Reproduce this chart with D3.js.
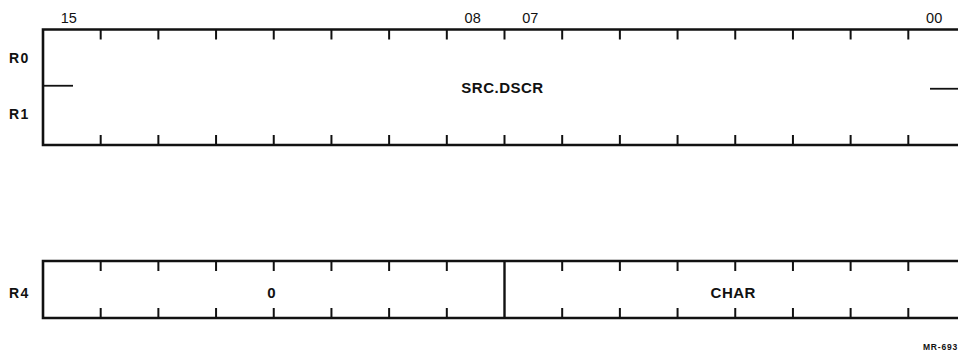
<!DOCTYPE html>
<html><head><meta charset="utf-8">
<script src="https://cdn.jsdelivr.net/npm/d3@7"></script>
<style>
html,body{margin:0;padding:0;background:#fff;}
svg{display:block;font-family:"Liberation Sans",Arial,Helvetica,sans-serif;}
</style></head>
<body><svg id="c" width="958" height="352"></svg>
<script>
// ---- data ----
const bitLabels = ["15", "08", "07", "00"];
const bitLabelPos = [15, 8, 7, 0];
const registerNames = [["R0", "R1"], ["R4"]];
const topFields = [{label: "SRC.DSCR", hi: 15, lo: 0}];
const bottomFields = [{label: "0", hi: 15, lo: 8}, {label: "CHAR", hi: 7, lo: 0}];
const figureId = "MR-693";

// ---- layout ----
const svg = d3.select("#c");
const x = d3.scaleLinear().domain([16, 0]).range([43, 966]);
const bits = d3.range(15, 0, -1); // inner boundaries
const boxes = [
  {top: 29.5, bottom: 145, names: registerNames[0], fields: topFields, split: true},
  {top: 261, bottom: 318, names: registerNames[1], fields: bottomFields, split: false}
];
const tickLen = 10;
const ink = "#111";

// bit number labels
svg.selectAll("text.bit").data(bitLabels).join("text")
  .attr("class", "bit")
  .attr("x", (d, i) => x(bitLabelPos[i] + 0.5) - 3)
  .attr("y", 22.5)
  .attr("text-anchor", "middle")
  .attr("font-size", 14.5)
  .attr("fill", ink)
  .text(d => d);

boxes.forEach(b => {
  const g = svg.append("g");
  g.append("path")
    .attr("d", `M${x(0) + 5},${b.top} H${x(16)} V${b.bottom} H${x(0) + 5}`)
    .attr("fill", "none").attr("stroke", ink).attr("stroke-width", 2.6);
  const fieldBounds = b.fields.map(f => f.lo).filter(v => v > 0 && v < 16);
  bits.forEach(k => {
    if (fieldBounds.includes(k)) {
      g.append("line").attr("x1", x(k)).attr("x2", x(k))
        .attr("y1", b.top).attr("y2", b.bottom)
        .attr("stroke", ink).attr("stroke-width", 2.4);
    } else {
      g.append("line").attr("x1", x(k)).attr("x2", x(k))
        .attr("y1", b.top).attr("y2", b.top + tickLen)
        .attr("stroke", ink).attr("stroke-width", 2);
      g.append("line").attr("x1", x(k)).attr("x2", x(k))
        .attr("y1", b.bottom - tickLen).attr("y2", b.bottom)
        .attr("stroke", ink).attr("stroke-width", 2);
    }
  });
  const mid = (b.top + b.bottom) / 2;
  if (b.split) {
    g.append("line").attr("x1", x(16)).attr("x2", x(16) + 30)
      .attr("y1", mid - 1.5).attr("y2", mid - 1.5).attr("stroke", ink).attr("stroke-width", 1.8);
    g.append("line").attr("x1", 930).attr("x2", 958)
      .attr("y1", mid + 1.5).attr("y2", mid + 1.5).attr("stroke", ink).attr("stroke-width", 1.8);
  }
  g.selectAll("text.f").data(b.fields).join("text")
    .attr("x", d => (x(d.hi + 1) + x(d.lo)) / 2 - 2)
    .attr("y", b.split ? 93.3 : 297.5)
    .attr("text-anchor", "middle")
    .attr("font-size", 15)
    .attr("font-weight", "bold")
    .attr("letter-spacing", 0.5)
    .attr("fill", ink)
    .text(d => d.label);
  const n = b.names.length;
  g.selectAll("text.r").data(b.names).join("text")
    .attr("x", 9)
    .attr("y", (d, i) => n === 1 ? 298 : (i === 0 ? 62.5 : 119))
    .attr("font-size", 14)
    .attr("font-weight", "bold")
    .attr("letter-spacing", 1.5)
    .attr("fill", ink)
    .text(d => d);
});

svg.append("text").attr("x", 958).attr("y", 349.5)
  .attr("text-anchor", "end").attr("font-size", 8.5).attr("font-weight", "bold")
  .attr("letter-spacing", 0.8)
  .attr("fill", ink).text(figureId);
</script></body></html>
